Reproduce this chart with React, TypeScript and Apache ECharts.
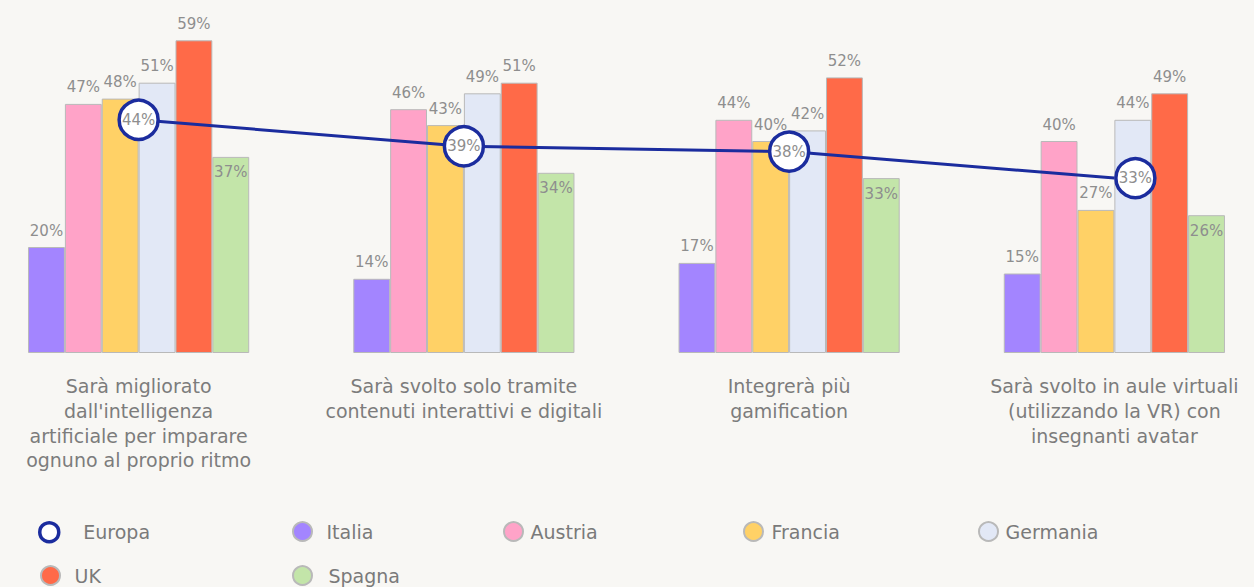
import React, { useEffect, useRef } from "react";
import * as echarts from "echarts";

const categories = [
  "Sarà migliorato\ndall'intelligenza\nartificiale per imparare\nognuno al proprio ritmo",
  "Sarà svolto solo tramite\ncontenuti interattivi e digitali",
  "Integrerà più\ngamification",
  "Sarà svolto in aule virtuali\n(utilizzando la VR) con\ninsegnanti avatar",
];
const italia = [20, 14, 17, 15];
const austria = [47, 46, 44, 40];
const francia = [48, 43, 40, 27];
const germania = [51, 49, 42, 44];
const uk = [59, 51, 52, 49];
const spagna = [37, 34, 33, 26];
const europa = [44, 39, 38, 33];

const FONT = "'DejaVu Sans', sans-serif";
const LABEL_COLOR = "#8e8e8e";
const SHIFT = 24; // chart canvas extends 24px past the left page edge

export default function App() {
  const ref = useRef<HTMLDivElement>(null);
  useEffect(() => {
    document.body.style.margin = "0";
    document.body.style.overflow = "hidden";
    if (!ref.current) return;
    const chart = echarts.init(ref.current, undefined, { renderer: "svg" });
    const bar = (name: string, data: number[], color: string, pos: string) => ({
      name,
      type: "bar",
      data,
      barGap: "0%",
      barCategoryGap: "32%",
      itemStyle: { color, borderColor: "#b9b9b9", borderWidth: 1 },
      label: {
        show: true,
        position: pos,
        distance: pos === "top" ? 9 : 8,
        formatter: "{c}%",
        color: LABEL_COLOR,
        fontSize: 15,
        fontFamily: FONT,
      },
    });
    const legendItem = (name: string, cx: number, cy: number, pad: number, extra: any = {}) => ({
      data: [{ name, icon: "circle", ...extra }],
      left: cx + SHIFT - 15,
      top: cy - 16,
      itemWidth: 20,
      itemHeight: 19,
      selectedMode: false,
      textStyle: { color: "#7a7a7a", fontSize: 19, fontFamily: FONT, padding: [0, 0, 0, pad] },
    });
    // the last Europa marker sits slightly right of its group centre in the original
    const europaData = europa.map((v, i) =>
      i === europa.length - 1 ? { value: v, symbolOffset: [21, 0] } : v
    );
    chart.setOption({
      animation: false,
      backgroundColor: "#f8f7f4",
      grid: { left: 0, right: 0, top: 35, bottom: 234 },
      xAxis: {
        type: "category",
        data: categories,
        axisLine: { show: false },
        axisTick: { show: false },
        axisLabel: {
          interval: 0,
          margin: 21,
          color: "#7c7c7c",
          fontSize: 19,
          lineHeight: 24.7,
          fontFamily: FONT,
          align: "center",
        },
      },
      yAxis: { type: "value", min: 0, max: 60, show: false, splitLine: { show: false } },
      legend: [
        legendItem("Europa", 48, 532, 19, {
          itemStyle: { color: "#ffffff", borderColor: "#1b2c9e", borderWidth: 3.5 },
        }),
        legendItem("Italia", 302, 532, 9),
        legendItem("Austria", 513, 532, 2),
        legendItem("Francia", 753, 532, 3),
        legendItem("Germania", 988, 532, 2),
        legendItem("UK", 50, 576, 9),
        legendItem("Spagna", 302, 576, 11),
      ],
      series: [
        bar("Italia", italia, "#a385ff", "top"),
        bar("Austria", austria, "#ffa3c8", "top"),
        bar("Francia", francia, "#ffd166", "top"),
        bar("Germania", germania, "#e2e8f6", "top"),
        bar("UK", uk, "#ff6a48", "top"),
        bar("Spagna", spagna, "#c3e5a9", "insideTop"),
        {
          name: "Europa",
          type: "line",
          data: europaData,
          symbol: "circle",
          symbolSize: 39,
          z: 5,
          lineStyle: { color: "#1b2c9e", width: 3 },
          itemStyle: { color: "#ffffff", borderColor: "#1b2c9e", borderWidth: 3.5 },
          label: {
            show: true,
            position: "inside",
            formatter: "{c}%",
            color: LABEL_COLOR,
            fontSize: 15,
            fontFamily: FONT,
          },
        },
      ],
    });
    return () => chart.dispose();
  }, []);
  return (
    <div
      ref={ref}
      style={{ position: "absolute", left: -SHIFT, top: 0, width: 1254 + SHIFT + 23, height: 587 }}
    />
  );
}
